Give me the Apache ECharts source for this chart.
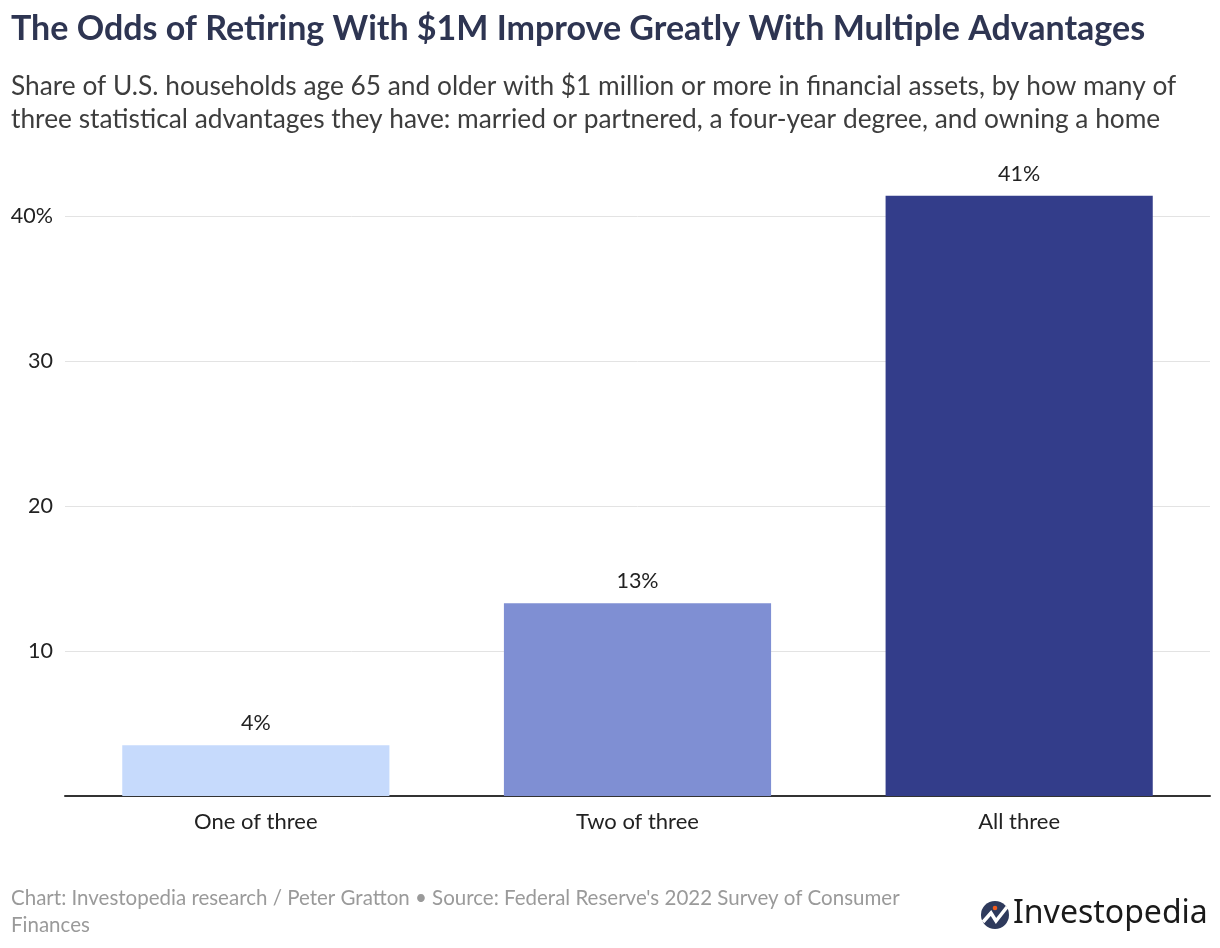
<!DOCTYPE html>
<html><head><meta charset="utf-8">
<script src="https://cdn.jsdelivr.net/npm/echarts@6/dist/echarts.min.js"></script>
<style>html,body{margin:0;padding:0;background:#fff}#c{width:1220px;height:948px}</style>
</head><body><div id="c"></div>
<script>
var categories = ['One of three', 'Two of three', 'All three'];
var values = [3.5, 13.3, 41.4];
var valueLabels = ['4%', '13%', '41%'];
var barColors = ['#c6dafc', '#7f8fd3', '#333d8a'];
var yTicks = [0, 10, 20, 30, 40];

var FONT = 'Lato, "Noto Sans", sans-serif';
var chart = echarts.init(document.getElementById('c'));
chart.setOption({
  animation: false,
  textStyle: {fontFamily: FONT},
  title: [
    {text: 'The Odds of Retiring With $1M Improve Greatly With Multiple Advantages', left: 6, top: 4,
     textStyle: {fontFamily: FONT, fontSize: 34, fontWeight: 'bold', color: '#2e3552', lineHeight: 40}},
    {text: 'Share of U.S. households age 65 and older with $1 million or more in financial assets, by how many of\nthree statistical advantages they have: married or partnered, a four-year degree, and owning a home',
     left: 6, top: 65, textStyle: {fontFamily: FONT, fontSize: 26.3, fontWeight: 'normal', color: '#3d3d3d', lineHeight: 33}},
    {text: "Chart: Investopedia research / Peter Gratton • Source: Federal Reserve's 2022 Survey of Consumer\nFinances",
     left: 6, top: 880, textStyle: {fontFamily: FONT, fontSize: 20.5, fontWeight: 'normal', color: '#9a9a9a', lineHeight: 27}}
  ],
  grid: {left: 65, right: 10, top: 216, bottom: 152, containLabel: false},
  xAxis: {
    type: 'category', data: categories,
    axisLine: {lineStyle: {color: '#333333', width: 2}},
    axisTick: {show: false},
    axisLabel: {fontFamily: FONT, fontSize: 22, color: '#222', margin: 15}
  },
  yAxis: {
    type: 'value', min: 0, max: 40, interval: 10,
    axisLine: {show: false}, axisTick: {show: false},
    splitLine: {lineStyle: {color: '#e3e3e3', width: 1}},
    axisLabel: {fontFamily: FONT, fontSize: 21.5, color: '#222', margin: 12,
      formatter: function (v) { return v === 0 ? '' : (v === 40 ? v + '%' : String(v)); }}
  },
  series: [{
    type: 'bar', barWidth: '70%', clip: false,
    data: values.map(function (v, i) { return {value: v, itemStyle: {color: barColors[i]}}; }),
    label: {show: true, position: 'top', distance: 11, fontFamily: FONT, fontSize: 21.5, color: '#222',
      formatter: function (p) { return valueLabels[p.dataIndex]; }}
  }],
  graphic: [
    {type: 'circle', shape: {cx: 995, cy: 915, r: 14}, style: {fill: '#2e3a5c'}},
    {type: 'polyline', shape: {points: [[983, 922], [991, 913], [996, 921], [1007, 907]]}, style: {stroke: '#fff', lineWidth: 3.5, fill: null}},
    {type: 'circle', shape: {cx: 995, cy: 908, r: 2.3}, style: {fill: '#f25c1f'}},
    {type: 'text', left: 1013, top: 898, style: {text: 'Investopedia', font: '32px "Noto Sans", sans-serif', fill: '#1a1a1a'}}
  ]
});
</script></body></html>
